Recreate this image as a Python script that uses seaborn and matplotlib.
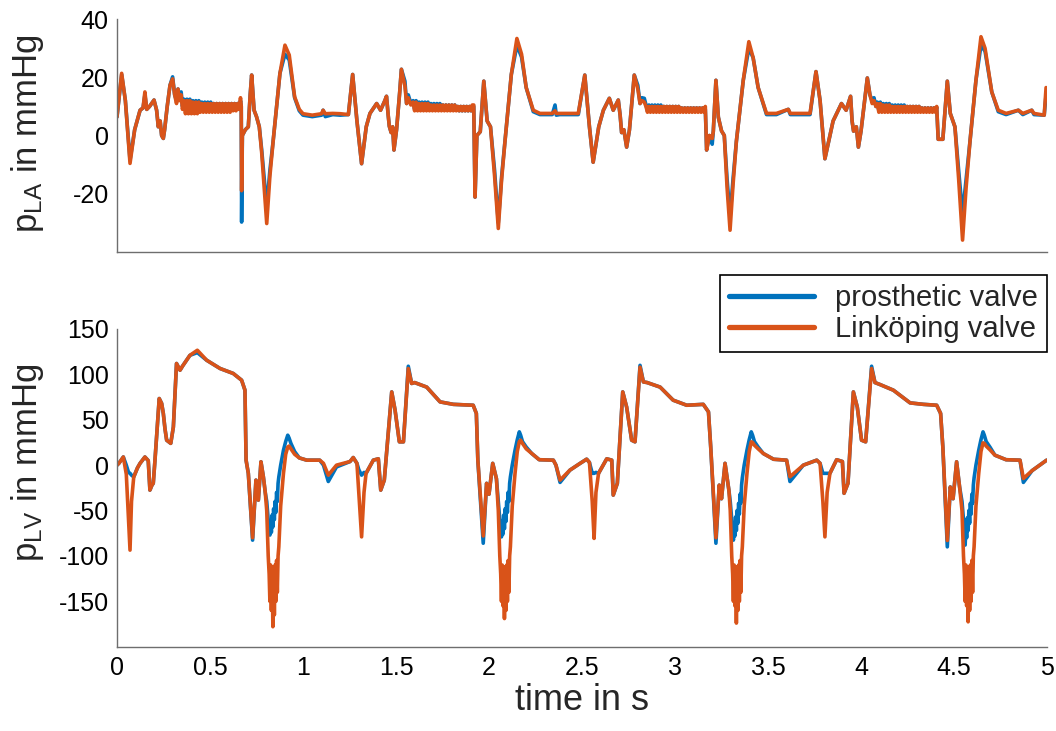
import matplotlib
matplotlib.use("Agg")
import matplotlib.pyplot as plt
import numpy as np
import pandas as pd
import seaborn as sns

# ---------------- data ----------------
series_names = ["prosthetic valve", "Linköping valve"]
series_colors = ["#0072BD", "#D95319"]

x_ticks = [0, 0.5, 1, 1.5, 2, 2.5, 3, 3.5, 4, 4.5, 5]
x_tick_labels = ["0", "0.5", "1", "1.5", "2", "2.5", "3", "3.5", "4", "4.5", "5"]
la_y_ticks = [-20, 0, 20, 40]
lv_y_ticks = [-150, -100, -50, 0, 50, 100, 150]

# ---- left atrial pressure ----
la_time = [
    0.000, 0.025, 0.045, 0.070, 0.095, 0.124, 0.140, 0.150, 0.160, 0.175, 0.199, 0.213, 0.222, 0.232, 0.240, 0.249, 0.256, 0.270, 0.285, 0.299, 0.310, 0.320, 0.328, 0.335, 0.345, 0.352,
    # plateau 1
    0.360, 0.368, 0.376, 0.384, 0.392, 0.400, 0.408, 0.416, 0.424, 0.432,
    0.440, 0.448, 0.456, 0.464, 0.472, 0.480, 0.488, 0.496, 0.504, 0.512,
    0.520, 0.528, 0.536, 0.544, 0.552, 0.560, 0.568, 0.576, 0.584, 0.592,
    0.600, 0.608, 0.616, 0.624, 0.632, 0.640, 0.648, 0.656,
    0.664, 0.668, 0.670, 0.674, 0.690, 0.706, 0.716, 0.724, 0.737, 0.750, 0.765, 0.778, 0.805, 0.822, 0.840, 0.876, 0.903, 0.926, 0.955, 0.980, 1.000, 1.050, 1.100, 1.108, 1.120, 1.160, 1.200, 1.244,
    1.267, 1.290, 1.315, 1.340, 1.360, 1.396, 1.417, 1.440, 1.449, 1.458, 1.464, 1.474, 1.482, 1.489, 1.503, 1.520, 1.529, 1.548, 1.557, 1.566, 1.580,
    # plateau 2
    1.592, 1.600, 1.608, 1.616, 1.624, 1.632, 1.640, 1.648, 1.656, 1.664,
    1.672, 1.680, 1.688, 1.696, 1.704, 1.712, 1.720, 1.728, 1.736, 1.744,
    1.752, 1.760, 1.768, 1.776, 1.784, 1.792, 1.800, 1.808, 1.816, 1.824,
    1.832, 1.840, 1.848, 1.856, 1.864, 1.872, 1.880, 1.888, 1.896, 1.904,
    1.910, 1.918, 1.925, 1.935, 1.953, 1.972, 1.990, 2.008, 2.030, 2.050, 2.068, 2.086, 2.120, 2.150, 2.175, 2.200, 2.238, 2.274, 2.340, 2.355, 2.362, 2.380, 2.480, 2.515, 2.540, 2.560, 2.590, 2.615, 2.647, 2.668, 2.695, 2.705, 2.713, 2.725, 2.740, 2.755, 2.781, 2.800, 2.812, 2.822, 2.835,
    # plateau 3
    2.844, 2.852, 2.860, 2.868, 2.876, 2.884, 2.892, 2.900, 2.908, 2.916,
    2.924, 2.932, 2.940, 2.948, 2.956, 2.964, 2.972, 2.980, 2.988, 2.996,
    3.004, 3.012, 3.020, 3.028, 3.036, 3.044, 3.052, 3.060, 3.068, 3.076,
    3.084, 3.092, 3.100, 3.108, 3.116, 3.124, 3.132, 3.140, 3.148, 3.156,
    3.163, 3.170, 3.185, 3.200, 3.206, 3.220, 3.233, 3.250, 3.265, 3.280, 3.296, 3.312, 3.330, 3.367, 3.397, 3.420, 3.447, 3.492, 3.545, 3.609, 3.620, 3.670, 3.726, 3.758, 3.780, 3.806, 3.850, 3.895, 3.920, 3.944, 3.952, 3.960, 3.975, 3.986, 4.000, 4.034, 4.048, 4.060, 4.070, 4.080,
    # plateau 4
    4.088, 4.096, 4.104, 4.112, 4.120, 4.128, 4.136, 4.144, 4.152, 4.160,
    4.168, 4.176, 4.184, 4.192, 4.200, 4.208, 4.216, 4.224, 4.232, 4.240,
    4.248, 4.256, 4.264, 4.272, 4.280, 4.288, 4.296, 4.304, 4.312, 4.320,
    4.328, 4.336, 4.344, 4.352, 4.360, 4.368, 4.376, 4.384, 4.392, 4.400,
    4.407, 4.415, 4.440, 4.464, 4.480, 4.505, 4.525, 4.546, 4.565, 4.586, 4.618, 4.645, 4.667, 4.703, 4.738, 4.780, 4.846, 4.870, 4.918, 4.930, 4.985, 4.995,
]
la_prosthetic = [
    6.4, 21, 12, -8.5, 2, 8.7, 9.5, 14, 9, 10, 12.2, 8.7, 3, 5, 0, -1, 2, 10, 17.3, 20.2, 14, 12, 16, 13, 15, 10,
    12.5, 9, 12.5, 9, 12.5, 9, 12, 9, 12, 9,
    12, 9, 11.5, 9, 11.5, 9, 11.5, 9, 11.5, 9,
    11, 9, 11, 9, 11, 9, 11, 9, 11, 9,
    11, 9, 11, 9, 11, 9, 11, 9,
    12, 10, -29.8, 0, 2, 3, 14, 20.8, 8.7, 6.5, 3, -5, -24.6, -12, -1.6, 21.4, 28, 26, 13, 8.5, 7, 6.5, 7, 8.7, 6.5, 7.2, 7, 7.2,
    21, 5, -9.7, 3, 7.6, 11, 8.7, 12, 13.5, 7, 3.2, 1, 3, -5, 2, 15, 22.8, 18.7, 11, 14, 11,
    12, 9, 12, 9, 11.5, 9, 11.5, 9, 11.5, 9,
    11.5, 9, 11, 9, 11, 9, 11, 9, 11, 9,
    10.5, 9, 10.5, 9, 10.5, 9, 10.5, 9, 10.5, 9,
    10, 8.5, 10, 8.5, 10, 8.5, 10, 8.5, 10, 8.5,
    10, 10, -21.2, 0, 1.3, 18.7, 5, 3, -12, -30, -14, -2, 21, 31, 27, 16.5, 8.2, 7.2, 7.2, 10.5, 7, 7.2, 7.2, 20.8, 3, -9.2, 3, 8.7, 12.8, 8.7, 12.2, 7, 1, 2, -4, 1.9, 20.8, 17.3, 11, 13, 12.8,
    10.5, 8.5, 10.5, 8.5, 10.5, 8.5, 10.5, 8.5, 10.5, 8.5,
    10.5, 8.5, 10, 8.5, 10, 8.5, 10, 8.5, 10, 8.5,
    10, 8.5, 10, 8.5, 9.5, 8.5, 9.5, 8.5, 9.5, 8.5,
    9.5, 8.5, 9.5, 8.5, 9.5, 8.5, 9.5, 8.5, 9.5, 8.5,
    9, -5, 0, -3, 1.5, 19, 6.3, 1.6, 0, -15, -28, -15, -2, 19, 30, 26.8, 16.5, 7.2, 7.2, 9, 7.2, 7.2, 7.2, 22, 12, -8, 5, 11, 8.7, 13.5, 5, 1.5, 3, -4, 1.5, 19.8, 14, 12, 13, 10,
    11.5, 8.5, 11.5, 8.5, 11, 8.5, 11, 8.5, 11, 8.5,
    10.5, 8.5, 10.5, 8.5, 10.5, 8.5, 10.5, 8.5, 10.5, 8.5,
    10, 8.5, 10, 8.5, 10, 8.5, 10, 8.5, 10, 8.5,
    9.5, 8.5, 9.5, 8.5, 9.5, 8.5, 9.5, 8.5, 9.5, 8.5,
    9.7, -1.3, -1.3, 18.7, 7.6, 3, -12, -27, -15, -2, 19, 31, 29, 15, 8.2, 7.2, 8.7, 7.2, 8.7, 7.2, 7, 14,
]
la_linkoping = [
    6.4, 21.4, 12, -9.6, 2, 8.7, 9.5, 15, 9, 10, 12.2, 8.7, 3, 5, 0, -1, 2, 10, 17.3, 19.5, 14, 11, 16, 12, 14, 9,
    12, 7.5, 12, 7.5, 12, 7.5, 11.5, 7.5, 11.5, 7.5,
    11.5, 8, 11, 8, 11, 8, 11, 8, 11, 8,
    11, 8, 11, 8, 11, 8, 11, 8, 11, 8,
    11, 8, 11, 8.5, 11, 8.5, 11, 9,
    13, 10, -19, 0, 2, 3, 14, 20.8, 8.7, 6.5, 3, -6, -30.3, -14, -1.6, 21.4, 31.1, 27.7, 13.3, 9, 7.5, 7, 7.5, 8.7, 7.5, 7.6, 7.5, 7.2,
    21, 5, -9.7, 3, 7.6, 11, 8.7, 12, 13.5, 7, 3.2, 1, 3, -5, 2, 15, 22.8, 17, 11, 13, 10.5,
    11.5, 8.5, 11.5, 8.5, 11, 8.5, 11, 8.5, 11, 8.5,
    11, 8.5, 10.5, 8.5, 10.5, 8.5, 10.5, 8.5, 10.5, 8.5,
    10.5, 8.5, 10.5, 8.5, 10.5, 8.5, 10.5, 8.5, 10.5, 8.5,
    10, 8.5, 10, 8.5, 10, 8.5, 10, 8.5, 10, 8.5,
    10.5, 10.5, -21.2, 0, 1.3, 18.7, 5, 3, -14, -32, -15, -2, 21, 33.4, 28, 16.5, 8.7, 7.6, 7.6, 8.5, 7.6, 7.6, 7.6, 20.8, 3, -9.2, 3, 8.7, 12.8, 8.7, 12.2, 7, 1, 2, -4, 1.9, 20.8, 16, 11, 12, 11.5,
    10, 8, 10, 8, 10, 8, 10, 8, 10, 8,
    10, 8, 10, 8, 10, 8, 10, 8, 10, 8,
    10, 8, 10, 8, 9.5, 8, 9.5, 8, 9.5, 8,
    9.5, 8, 9.5, 8, 9.5, 8, 9.5, 8, 9.5, 8,
    10, -5, 0, -1, 1.5, 19, 6.3, 1.6, 0, -18, -32.6, -17, -2, 19, 32.3, 26.8, 16.5, 7.6, 7.6, 9, 7.6, 7.6, 7.6, 22, 12, -8, 5, 11, 8.7, 13.5, 5, 1.5, 3, -4, 1.5, 19.8, 14, 11, 12, 10,
    11, 8, 11, 8, 10.5, 8, 10.5, 8, 10.5, 8,
    10, 8, 10, 8, 10, 8, 10, 8, 10, 8,
    10, 8, 10, 8, 10, 8, 10, 8, 10, 8,
    9.5, 8, 9.5, 8, 9.5, 8, 9.5, 8, 9.5, 8,
    10, -1.3, -1.3, 18.7, 7.6, 3, -15, -36, -18, -2, 19, 34, 30, 15, 8.7, 7.6, 8.7, 7.6, 8.7, 7.6, 7, 16.5,
]

# ---- left ventricular pressure ----
lv_time = [
    0.000, 0.010, 0.034, 0.050, 0.062, 0.070, 0.078, 0.090, 0.110, 0.124, 0.150, 0.168, 0.177, 0.188, 0.195, 0.204, 0.227, 0.240, 0.249, 0.258, 0.267, 0.289, 0.303, 0.320, 0.339, 0.352, 0.392, 0.432, 0.482, 0.554, 0.625, 0.670, 0.688, 0.694, 0.706, 0.729, 0.747, 0.760, 0.774, 0.787,
    0.797, 0.805, 0.813, 0.818, 0.822, 0.826, 0.830, 0.834, 0.838, 0.842, 0.846, 0.850, 0.854, 0.858, 0.862, 0.866, 0.870, 0.880, 0.895, 0.907, 0.918, 0.925, 0.935, 0.955,
    0.980, 1.020, 1.090, 1.110, 1.136, 1.180, 1.253, 1.270, 1.290, 1.300, 1.315, 1.328, 1.339, 1.378, 1.405, 1.418, 1.437,
    1.477, 1.495, 1.518, 1.540, 1.566, 1.584, 1.600, 1.665, 1.737, 1.808, 1.915, 1.932, 1.940, 1.969, 1.987, 2.000, 2.020, 2.040,
    2.050, 2.058, 2.063, 2.067, 2.071, 2.075, 2.079, 2.083, 2.087, 2.091, 2.095, 2.099, 2.103, 2.107, 2.111, 2.115, 2.125, 2.140, 2.152, 2.163, 2.170, 2.180, 2.200, 2.230, 2.270, 2.346, 2.360, 2.382, 2.435, 2.490, 2.525, 2.540, 2.555, 2.565, 2.575, 2.589, 2.633, 2.660, 2.668, 2.690,
    2.719, 2.740, 2.767, 2.785, 2.812, 2.830, 2.850, 2.920, 2.990, 3.063, 3.152, 3.180, 3.192, 3.220, 3.238, 3.250, 3.269, 3.290,
    3.297, 3.305, 3.310, 3.314, 3.318, 3.322, 3.326, 3.330, 3.334, 3.338, 3.342, 3.346, 3.350, 3.354, 3.358, 3.362, 3.372, 3.387, 3.399, 3.410, 3.417, 3.427, 3.447, 3.475, 3.530, 3.600, 3.618, 3.690, 3.762, 3.780, 3.795, 3.806, 3.818, 3.833, 3.869, 3.900, 3.909, 3.930,
    3.959, 3.980, 4.003, 4.025, 4.057, 4.075, 4.100, 4.174, 4.264, 4.335, 4.407, 4.428, 4.440, 4.464, 4.480, 4.495, 4.514, 4.530,
    4.543, 4.551, 4.556, 4.560, 4.564, 4.568, 4.572, 4.576, 4.580, 4.584, 4.588, 4.592, 4.596, 4.600, 4.604, 4.608, 4.618, 4.633, 4.645, 4.656, 4.663, 4.673, 4.693, 4.720, 4.780, 4.855, 4.873, 4.920, 4.998,
]
lv_prosthetic = [
    0, 2, 9, 0, -8, -9, -11, -13, -3, 2, 9, 5, -27.5, -22, -20, 5, 73.4, 68, 57, 40, 27.5, 24, 42, 112, 104.6, 109, 121, 124, 115.6, 106.5, 101, 93.6, 82.6, 5.5, -9, -82.6, -16.5, -38.5, 3.7, -13,
    -30, -40, -60, -70, -77, -62, -74, -55, -68, -48, -60, -40, -52, -30, -40, -20, -13, 0, 16.5, 26, 33, 30, 24, 15,
    8, 5.5, 5.5, 0, -18, -2, 4, 8.4, 2, -5, -11, -8, -9, 5.5, 7, -27.5, -16.5,
    80.7, 60.6, 25.7, 25.7, 109, 90, 91, 86, 69.7, 67, 66, 57, 5.5, -86, -20, -32, 2, -15,
    -40, -60, -70, -79, -62, -76, -55, -70, -48, -62, -40, -52, -30, -40, -20, -13, 0, 16.5, 28, 36.7, 33, 26, 20, 12.8, 6, 5.5, 0, -19, -5.5, 2, 6.6, 3, -9, -9, -8, -9, 7, 5.5, -33, -20,
    80.7, 64, 27.5, 25.7, 110, 91.7, 91, 86, 71.6, 66, 67, 58.7, 20, -86, -22, -37, 2, -28,
    -40, -60, -72, -82.6, -64, -78, -57, -72, -50, -64, -42, -54, -32, -42, -22, -14, 0, 16.5, 28, 36.7, 33, 26, 20, 12.8, 6.5, 5.5, -18, 0, 5.5, 2, -9, -9, -9, -9, 6, 4, -31, -20,
    80.7, 64, 27.5, 25.7, 109, 91, 89, 82.6, 68.6, 67, 66, 57, 20, -90, -24, -37, 3.7, -24,
    -40, -60, -75, -88, -66, -80, -58, -72, -50, -64, -42, -54, -32, -42, -22, -14, 0, 16.5, 28, 36.7, 33, 26, 20, 11, 6, 5.5, -19, -6, 5.5,
]
lv_linkoping = [
    0, 2, 9, -10, -60, -93.6, -40, -13, -3, 2, 9, 5, -27.5, -22, -20, 5, 73.4, 68, 57, 40, 27.5, 24, 42, 112, 104.6, 109, 121, 126.6, 115.6, 106.5, 101, 93.6, 82.6, 5.5, -9, -80, -16.5, -38.5, 3.7, -13,
    -30, -50, -100, -120, -150, -110, -160, -115, -178, -112, -165, -110, -150, -105, -140, -100, -90, -45, -9, 12, 20, 21, 18, 12,
    8, 5.5, 5.5, 2, -11, 0, 4, 8.4, 2, -30, -79, -30, -9, 5.5, 7, -27.5, -16.5,
    80.7, 60.6, 25.7, 25.7, 106.5, 90, 91, 86, 69.7, 67, 66, 57, 5.5, -78, -20, -32, 2, -15,
    -50, -100, -120, -150, -110, -155, -115, -169, -112, -160, -110, -150, -105, -140, -100, -90, -45, -9, 15, 26, 27.5, 24, 18, 12.8, 6, 5.5, 0, -16.5, -5.5, 2, 6.6, 3, -40, -80.7, -30, -9, 7, 5.5, -33, -20,
    80.7, 64, 27.5, 25.7, 108, 91.7, 91, 86, 71.6, 66, 67, 58.7, 20, -80, -22, -37, 2, -28,
    -50, -100, -120, -150, -110, -155, -115, -174, -112, -160, -110, -150, -105, -140, -100, -90, -45, -9, 15, 25.7, 25, 22, 18, 12.8, 6.5, 5.5, -12.8, 0, 5.5, 2, -40, -79, -30, -9, 6, 4, -31, -20,
    80.7, 64, 27.5, 25.7, 106.5, 91, 89, 82.6, 68.6, 67, 66, 57, 20, -83, -24, -37, 3.7, -24,
    -50, -100, -120, -150, -110, -155, -115, -172.6, -112, -160, -110, -150, -105, -140, -100, -90, -45, -9, 15, 24.6, 24, 21, 17, 11, 6, 5.5, -14.7, -6, 5.5,
]

assert len(la_time) == len(la_prosthetic) == len(la_linkoping), (len(la_time), len(la_prosthetic), len(la_linkoping))
assert len(lv_time) == len(lv_prosthetic) == len(lv_linkoping), (len(lv_time), len(lv_prosthetic), len(lv_linkoping))

# ---------------- style ----------------
sns.set_theme(style="white")
plt.rcParams["font.family"] = ["Liberation Sans", "DejaVu Sans"]
plt.rcParams["mathtext.fontset"] = "custom"
plt.rcParams["mathtext.rm"] = "Liberation Sans"
plt.rcParams["mathtext.it"] = "Liberation Sans"
plt.rcParams["axes.unicode_minus"] = False

W, H = 1056, 731
fig = plt.figure(figsize=(W / 100, H / 100), dpi=100)
fig.patch.set_facecolor("white")

ax_left, ax_right = 117, 1047
ax1 = fig.add_axes([ax_left / W, 1 - 251.7 / H, (ax_right - ax_left) / W, (251.7 - 19.3) / H])
ax2 = fig.add_axes([ax_left / W, 1 - 646.7 / H, (ax_right - ax_left) / W, (646.7 - 329.0) / H])


def long_frame(t, a, b):
    return pd.DataFrame({
        "time": list(t) + list(t),
        "pressure": list(a) + list(b),
        "valve": [series_names[0]] * len(t) + [series_names[1]] * len(t),
    })


palette = dict(zip(series_names, series_colors))
line_w = 2.6
sns.lineplot(data=long_frame(la_time, la_prosthetic, la_linkoping), x="time", y="pressure",
             hue="valve", hue_order=series_names, palette=palette, estimator=None, sort=False,
             linewidth=line_w, solid_joinstyle="round", ax=ax1, legend=False)
sns.lineplot(data=long_frame(lv_time, lv_prosthetic, lv_linkoping), x="time", y="pressure",
             hue="valve", hue_order=series_names, palette=palette, estimator=None, sort=False,
             linewidth=line_w, solid_joinstyle="round", ax=ax2, legend=True)

spine_color = "#6e6e6e"
tick_fs = 18
label_fs = 25
for ax in (ax1, ax2):
    ax.set_xlim(0, 5)
    ax.set_xticks(x_ticks)
    for s in ("top", "right"):
        ax.spines[s].set_visible(False)
    for s in ("left", "bottom"):
        ax.spines[s].set_color(spine_color)
        ax.spines[s].set_linewidth(1.0)
    ax.tick_params(axis="both", direction="in", colors=spine_color, labelcolor="black",
                   labelsize=tick_fs, width=1.0)
    ax.tick_params(axis="x", length=8.5, pad=7)
    ax.tick_params(axis="y", length=6, pad=6)
    ax.set_facecolor("white")
    ax.grid(False)

ax1.set_ylim(-40, 40)
ax1.set_yticks(la_y_ticks)
ax1.set_yticklabels([str(v) for v in la_y_ticks])
ax1.set_xticklabels([])
ax1.set_xlabel("")
ax1.set_ylabel(r"$\mathregular{p_{LA}}$ in mmHg", fontsize=label_fs)
ax1.yaxis.set_label_coords(-0.076, 0.51)

ax2.set_ylim(-200, 150)
ax2.set_yticks(lv_y_ticks)
ax2.set_yticklabels([str(v) for v in lv_y_ticks])
ax2.set_xticklabels(x_tick_labels)
ax2.set_xlabel("time in s", fontsize=26, labelpad=2)
ax2.set_ylabel(r"$\mathregular{p_{LV}}$ in mmHg", fontsize=label_fs)
ax2.yaxis.set_label_coords(-0.076, 0.58)

handles, labels = ax2.get_legend_handles_labels()
leg = ax2.legend(handles, labels, loc="upper right",
                 bbox_to_anchor=(1047 / W, 1 - 275 / H), bbox_transform=fig.transFigure,
                 fontsize=21, frameon=True, fancybox=False, framealpha=1.0,
                 edgecolor="black", handlelength=2.9, handletextpad=0.75,
                 borderpad=0.3, labelspacing=0.12, borderaxespad=0)
leg.get_frame().set_linewidth(1.2)
for line in leg.get_lines():
    line.set_linewidth(3.8)

fig.savefig("out.png", dpi=100, facecolor="white")
